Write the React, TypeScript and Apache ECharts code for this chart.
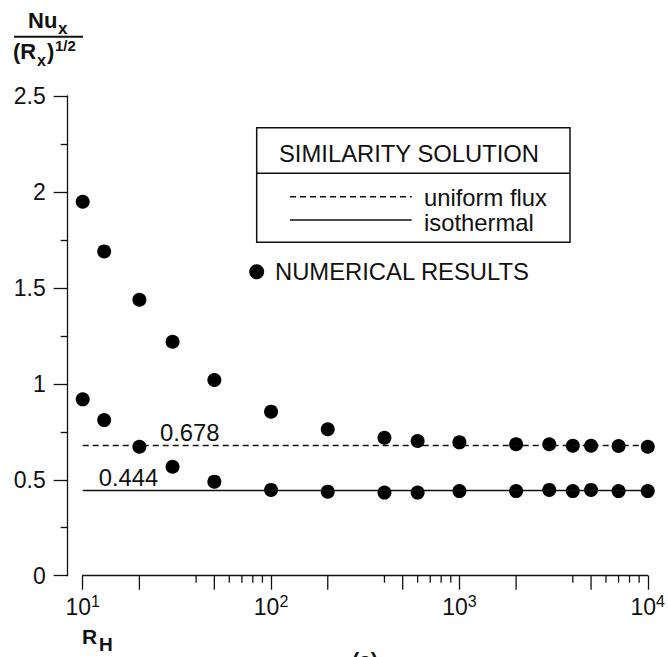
import React, { useEffect, useRef } from 'react';
import * as echarts from 'echarts';

// ---- data ----
const rhValues = [10, 13, 20, 30, 50, 100, 200, 400, 600, 1000, 2000, 3000, 4000, 5000, 7000, 10000];
const upperResults = [1.949, 1.69, 1.438, 1.219, 1.02, 0.855, 0.763, 0.719, 0.702, 0.695, 0.685, 0.685, 0.677, 0.677, 0.676, 0.672];
const lowerResults = [0.919, 0.811, 0.672, 0.568, 0.49, 0.447, 0.438, 0.433, 0.433, 0.441, 0.441, 0.447, 0.441, 0.447, 0.441, 0.441];
const uniformFluxValue = 0.678;
const isothermalValue = 0.444;
const xRange = [10, 10000];
const yRange = [0, 2.5];
const yInterval = 0.5;
const longMinorTicks = [20, 50, 200, 500, 2000, 5000];
const shortMinorTicks = [40, 60, 70, 80, 90, 400, 600, 700, 800, 900, 4000, 6000, 7000, 8000, 9000];

const FONT = '"Liberation Sans", Arial, Helvetica, sans-serif';
const INK = '#111';

function txt(text: string, x: number, y: number, size: number, bold = false, align = 'left') {
  return {
    type: 'text',
    silent: true,
    style: {
      text,
      x,
      y,
      fontSize: size,
      fontWeight: bold ? 'bold' : 'normal',
      fontFamily: FONT,
      fill: INK,
      align,
      textAlign: align,
      verticalAlign: 'middle',
      textVerticalAlign: 'middle',
    },
  };
}

function hline(x1: number, x2: number, y: number, width: number, dash?: number[]) {
  return {
    type: 'line',
    silent: true,
    shape: { x1, y1: y, x2, y2: y },
    style: { stroke: INK, lineWidth: width, lineDash: dash },
  };
}

function tickSeries(values: number[], len: number) {
  return {
    type: 'custom',
    silent: true,
    clip: false,
    data: values.map((v) => [v, 0]),
    encode: { x: 0, y: 1 },
    renderItem: (_p: any, api: any) => {
      const p = api.coord([api.value(0), 0]);
      return {
        type: 'line',
        shape: { x1: p[0], y1: p[1], x2: p[0], y2: p[1] + len },
        style: { stroke: INK, lineWidth: 1.3 },
      };
    },
  };
}

export default function App() {
  const ref = useRef<HTMLDivElement>(null);
  useEffect(() => {
    const chart = echarts.init(ref.current!, null, { renderer: 'svg' });
    const option: any = {
      animation: false,
      backgroundColor: '#fff',
      grid: { left: 82.7, top: 96, right: 19.7, bottom: 81.3 },
      xAxis: {
        type: 'log',
        logBase: 10,
        min: xRange[0],
        max: xRange[1],
        axisLine: { show: true, onZero: false, lineStyle: { color: INK, width: 1.3 } },
        axisTick: { show: true, inside: false, length: 14, lineStyle: { color: INK, width: 1.3 } },
        minorTick: { show: false },
        splitLine: { show: false },
        axisLabel: {
          show: true,
          margin: 18,
          color: INK,
          fontFamily: FONT,
          fontSize: 23,
          lineHeight: 27,
          showMinLabel: true,
          showMaxLabel: true,
          formatter: (v: number) => '10{sup|' + Math.round(Math.log10(v)) + '}',
          rich: {
            sup: { fontSize: 16, lineHeight: 15, verticalAlign: 'top', fontFamily: FONT, color: INK },
          },
        },
      },
      yAxis: {
        type: 'value',
        min: yRange[0],
        max: yRange[1],
        interval: yInterval,
        offset: 15,
        axisLine: { show: true, onZero: false, lineStyle: { color: INK, width: 1.3 } },
        axisTick: { show: true, inside: false, length: 14, lineStyle: { color: INK, width: 1.3 } },
        minorTick: { show: true, splitNumber: 2, length: 7, lineStyle: { color: INK, width: 1.3 } },
        splitLine: { show: false },
        axisLabel: { margin: 22, color: INK, fontFamily: FONT, fontSize: 23 },
      },
      graphic: [
        // y-axis title: Nu_x / (R_x)^(1/2)
        txt('Nu', 28, 20, 22, true),
        txt('x', 58, 28, 17, true),
        hline(14, 83, 36.7, 2),
        txt('(R', 13, 51, 22, true),
        txt('x', 37, 60, 16, true),
        txt(')', 47, 51, 22, true),
        txt('1/2', 55, 45, 15, true),
        // x-axis title R_H
        txt('R', 82, 636, 21, true),
        txt('H', 99, 644.5, 19, true),
        // caption
        txt('(a)', 365, 659, 21, true, 'center'),
        // legend box
        {
          type: 'rect',
          silent: true,
          shape: { x: 256.7, y: 127.7, width: 313.3, height: 114.6 },
          style: { fill: 'none', stroke: INK, lineWidth: 1.5 },
        },
        hline(256.7, 570, 173.3, 1.5),
        txt('SIMILARITY SOLUTION', 279, 153, 23.8),
        hline(290, 411.7, 196.7, 1.5, [6, 4]),
        hline(290, 411.7, 220, 1.5),
        txt('uniform flux', 424, 197, 23.8),
        txt('isothermal', 424, 222, 23.8),
        {
          type: 'circle',
          silent: true,
          shape: { cx: 256.7, cy: 271.7, r: 7.5 },
          style: { fill: '#000' },
        },
        txt('NUMERICAL RESULTS', 275, 271.5, 23.8),
      ],
      series: [
        tickSeries(longMinorTicks, 14),
        tickSeries(shortMinorTicks, 7),
        {
          name: 'uniform flux',
          type: 'line',
          symbol: 'none',
          silent: true,
          data: [
            [xRange[0], uniformFluxValue],
            [xRange[1], uniformFluxValue],
          ],
          lineStyle: { color: INK, width: 1.5, type: [6, 4], opacity: 1 },
        },
        {
          name: 'isothermal',
          type: 'line',
          symbol: 'none',
          silent: true,
          data: [
            [xRange[0], isothermalValue],
            [xRange[1], isothermalValue],
          ],
          lineStyle: { color: INK, width: 1.5, opacity: 1 },
        },
        {
          name: 'line values',
          type: 'scatter',
          silent: true,
          symbolSize: 1,
          itemStyle: { color: 'rgba(255,255,255,0)', opacity: 1 },
          data: [
            { value: [37, uniformFluxValue], name: uniformFluxValue.toFixed(3) },
            { value: [17.5, isothermalValue], name: isothermalValue.toFixed(3) },
          ],
          label: {
            show: true,
            position: 'inside',
            offset: [0, -13],
            formatter: '{b}',
            color: '#111',
            opacity: 1,
            fontFamily: FONT,
            fontSize: 23.8,
          },
        },
        {
          name: 'NUMERICAL RESULTS',
          type: 'scatter',
          symbol: 'circle',
          symbolSize: 14,
          itemStyle: { color: '#000', opacity: 1 },
          data: rhValues.map((x, i) => [x, upperResults[i]]),
        },
        {
          name: 'NUMERICAL RESULTS ',
          type: 'scatter',
          symbol: 'circle',
          symbolSize: 14,
          itemStyle: { color: '#000', opacity: 1 },
          data: rhValues.map((x, i) => [x, lowerResults[i]]),
        },
      ],
    };
    chart.setOption(option);
    return () => chart.dispose();
  }, []);
  return (
    <div
      ref={ref}
      style={{ position: 'fixed', left: 0, top: 0, width: 668, height: 657, background: '#fff' }}
    />
  );
}
